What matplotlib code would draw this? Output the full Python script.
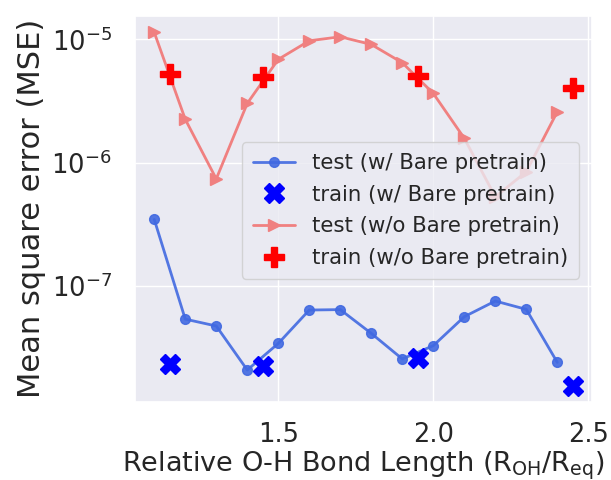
import numpy as np
import matplotlib
matplotlib.use("Agg")
import matplotlib.pyplot as plt
import seaborn as sns

sns.set_theme(style="darkgrid")
plt.rcParams['font.family'] = ['DejaVu Sans']

# bond lengths (R_OH / R_eq)
test_x = [1.1, 1.2, 1.3, 1.4, 1.5, 1.6, 1.7, 1.8, 1.9, 2.0, 2.1, 2.2, 2.3, 2.4]
train_x = [1.15, 1.45, 1.95, 2.45]

# MSE with Bare pretraining
test_pre = [3.47e-7, 5.4e-8, 4.75e-8, 2.09e-8, 3.43e-8, 6.4e-8, 6.45e-8,
            4.14e-8, 2.57e-8, 3.29e-8, 5.65e-8, 7.57e-8, 6.48e-8, 2.41e-8]
train_pre = [2.32e-8, 2.27e-8, 2.63e-8, 1.56e-8]

# MSE without Bare pretraining
test_nopre = [1.14e-5, 2.25e-6, 7.4e-7, 3.03e-6, 6.89e-6, 9.75e-6, 1.05e-5,
              9.1e-6, 6.47e-6, 3.65e-6, 1.58e-6, 5.3e-7, 8.45e-7, 2.59e-6]
train_nopre = [5.24e-6, 4.98e-6, 5.05e-6, 4.0e-6]

fig = plt.figure(figsize=(6.11, 4.8), dpi=100)
ax = fig.add_axes([0.2205, 0.1631, 0.7479, 0.8039])

ax.plot(test_x, test_pre, '-o', color='royalblue', lw=2, ms=7, alpha=0.9,
        label='test (w/ Bare pretrain)')
ax.plot(train_x, train_pre, 'X', color='blue', ms=14, lw=0,
        label='train (w/ Bare pretrain)')
ax.plot(test_x, test_nopre, '->', color='lightcoral', lw=2, ms=8,
        label='test (w/o Bare pretrain)')
ax.plot(train_x, train_nopre, 'P', color='red', ms=14, lw=0,
        label='train (w/o Bare pretrain)')

ax.set_yscale('log')
ax.set_xlim(1.037, 2.511)
ax.set_ylim(10 ** -7.937, 10 ** -4.809)
ax.set_xticks([1.5, 2.0, 2.5])
ax.tick_params(axis='x', labelsize=18.5, pad=8.5)
ax.tick_params(axis='y', labelsize=18.5, pad=10.5)

ax.set_xlabel(r'Relative O-H Bond Length (R$_{\rm OH}$/R$_{\rm eq}$)', fontsize=19.5,
              labelpad=1)
ax.set_ylabel('Mean square error (MSE)', fontsize=22, labelpad=4)

ax.legend(loc='upper left', bbox_to_anchor=(0.235, 0.672), borderaxespad=0,
          fontsize=15.3, framealpha=0.8, borderpad=0.5, labelspacing=0.55)

fig.savefig("out.png", dpi=100)
